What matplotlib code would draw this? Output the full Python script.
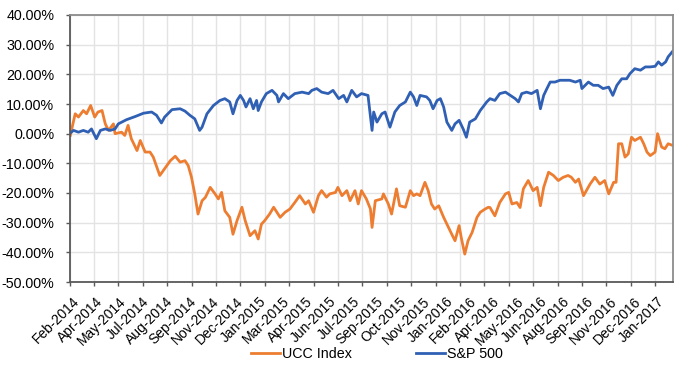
import matplotlib
matplotlib.use("Agg")
import matplotlib.pyplot as plt
import numpy as np

plt.rcParams["font.family"] = ["Liberation Sans", "DejaVu Sans"]

# trading days since start of Feb-2014 and cumulative return (%)
sp_days = [0, 5, 11, 17, 23, 27, 33, 38, 44, 50, 56, 60, 70, 81, 91, 101, 107, 113, 117, 126,
           136, 142, 148, 154, 160, 163, 169, 177, 185, 191, 197, 201, 206, 210, 214, 217, 222,
           226, 230, 232, 236, 242, 249, 255, 257, 263, 269, 277, 286, 294, 298, 304, 310, 318,
           324, 331, 337, 341, 347, 353, 359, 367, 372, 374, 378, 384, 388, 394, 400, 406, 413,
           419, 423, 427, 431, 439, 443, 447, 452, 456, 460, 464, 470, 474, 479, 484, 488, 492,
           499, 505, 513, 517, 523, 529, 536, 542, 548, 552, 556, 562, 568, 575, 579, 583, 587,
           591, 597, 603, 609, 615, 622, 628, 630, 638, 644, 650, 656, 663, 668, 673, 679, 685,
           689, 695, 702, 708, 714, 720, 724, 728, 733, 736, 742]
sp_vals = [0.0, 1.1, 0.5, 1.1, 0.5, 1.6, -1.7, 1.1, 1.6, 1.1, 1.6, 3.3, 4.7, 5.8, 6.9, 7.3, 6.2,
           3.6, 5.6, 8.1, 8.4, 7.6, 6.2, 5.0, 1.1, 2.2, 6.7, 9.5, 11.2, 11.8, 10.7, 6.7, 11.2,
           12.9, 11.2, 9.0, 11.8, 8.4, 11.2, 7.8, 10.7, 13.5, 14.6, 12.9, 10.7, 13.5, 11.8, 13.5,
           14.0, 13.5, 14.6, 15.2, 14.0, 13.5, 14.6, 11.8, 12.9, 10.7, 14.6, 12.4, 13.5, 12.9,
           1.1, 7.3, 3.9, 6.7, 7.3, 2.2, 7.3, 9.5, 10.7, 14.0, 12.4, 9.5, 12.9, 12.4, 11.2, 8.4,
           11.2, 11.8, 9.0, 3.9, 1.1, 3.3, 4.5, 1.6, -1.2, 3.9, 5.0, 7.8, 10.7, 11.8, 11.2, 13.5,
           14.0, 12.9, 11.8, 10.7, 13.5, 14.0, 13.5, 14.6, 8.4, 12.9, 15.2, 17.4, 17.4, 18.0,
           18.0, 18.0, 17.4, 18.0, 15.2, 17.4, 16.3, 16.3, 15.2, 15.7, 12.9, 16.3, 18.5, 18.5,
           20.2, 21.9, 21.4, 22.5, 22.5, 22.7, 24.2, 23.1, 24.2, 25.9, 27.9]

ucc_days = [1, 7, 11, 17, 21, 26, 31, 35, 40, 44, 48, 54, 56, 64, 68, 72, 76, 83, 87, 93, 99,
            103, 111, 117, 124, 130, 136, 142, 146, 150, 154, 158, 163, 167, 173, 179, 183, 187,
            191, 197, 201, 206, 212, 216, 222, 228, 232, 236, 240, 246, 251, 255, 259, 265, 271,
            277, 283, 290, 294, 300, 306, 310, 316, 320, 327, 330, 335, 341, 345, 351, 355, 359,
            365, 370, 372, 376, 384, 386, 392, 396, 402, 406, 413, 419, 423, 427, 431, 437, 441,
            445, 449, 454, 460, 464, 470, 474, 479, 482, 486, 490, 495, 501, 505, 511, 515, 517,
            523, 529, 536, 540, 544, 550, 554, 558, 564, 570, 575, 579, 583, 589, 595, 601, 607,
            613, 617, 622, 626, 632, 640, 646, 652, 658, 663, 669, 672, 675, 679, 683, 687, 691,
            695, 702, 706, 710, 714, 720, 723, 728, 732, 736, 742]
ucc_vals = [-0.6, 6.7, 5.6, 7.8, 6.7, 9.5, 5.6, 7.3, 7.8, 3.3, 1.1, 3.3, 0.0, 0.5, -0.6, 2.8,
            -1.7, -5.7, -2.3, -6.2, -6.2, -7.9, -14.1, -11.8, -9.1, -7.6, -9.6, -9.1, -10.8,
            -14.7, -20.3, -27.1, -22.6, -21.5, -18.1, -20.3, -22.0, -19.8, -26.0, -28.2, -33.9,
            -29.3, -24.8, -29.3, -34.4, -32.7, -35.5, -30.5, -29.3, -27.1, -24.8, -26.5, -28.2,
            -26.5, -25.4, -23.2, -20.9, -23.7, -22.6, -26.5, -20.9, -19.2, -21.4, -20.3, -19.8,
            -18.1, -20.9, -19.2, -22.6, -19.2, -23.7, -19.2, -22.0, -25.4, -31.6, -22.6, -22.0,
            -20.3, -23.7, -27.1, -18.6, -24.3, -24.8, -19.2, -20.9, -20.3, -20.9, -16.4, -19.2,
            -23.7, -25.4, -24.3, -28.2, -30.5, -33.9, -36.1, -31.0, -35.5, -40.6, -36.1, -33.3,
            -28.2, -26.5, -25.4, -24.8, -24.9, -27.7, -23.2, -20.3, -19.8, -23.7, -23.2, -24.9,
            -18.6, -15.8, -19.2, -18.1, -24.3, -18.1, -13.0, -14.1, -15.8, -14.7, -14.1, -14.7,
            -16.4, -15.3, -20.9, -17.0, -14.7, -17.0, -15.8, -20.3, -16.4, -16.4, -3.4, -3.4,
            -7.9, -6.8, -1.2, -2.3, -1.2, -3.4, -6.2, -7.4, -6.2, 0.0, -4.5, -5.1, -3.4, -4.0]

tick_labels = ["Feb-2014", "Apr-2014", "May-2014", "Jul-2014", "Aug-2014", "Sep-2014",
               "Nov-2014", "Dec-2014", "Jan-2015", "Mar-2015", "Apr-2015", "Jun-2015",
               "Jul-2015", "Sep-2015", "Oct-2015", "Nov-2015", "Jan-2016", "Feb-2016",
               "Apr-2016", "May-2016", "Jun-2016", "Aug-2016", "Sep-2016", "Nov-2016",
               "Dec-2016", "Jan-2017"]

ORANGE = "#ED7D31"
BLUE = "#3060B4"

fig = plt.figure(figsize=(6.85, 3.7), dpi=100)
ax = fig.add_axes([69.5 / 685, 1 - 282 / 370, (673 - 69.5) / 685, (282 - 15) / 370])

ax.plot(ucc_days, ucc_vals, color=ORANGE, lw=2.0, label="UCC Index", solid_joinstyle="round")
ax.plot(sp_days, sp_vals, color=BLUE, lw=2.0, label="S&P 500", solid_joinstyle="round")

ax.set_xlim(0, 742)
ax.set_ylim(-50, 40)
ax.set_yticks(np.arange(-50, 41, 10))
ax.set_yticklabels([f"{v:.2f}%" for v in np.arange(-50, 41, 10)])

# gridlines / tick marks every 30 trading days
ax.set_xticks(np.arange(0, 742, 30))
ax.set_xticklabels([])
# labels sit on their own (slightly tighter) spacing
ax.set_xticks(np.linspace(2.7, 722, len(tick_labels)), tick_labels, minor=True)
ax.tick_params(axis="x", which="minor", length=0, pad=9, labelsize=10)
for lab in ax.get_xticklabels(minor=True):
    lab.set_rotation(45)
    lab.set_ha("right")
    lab.set_va("top")
    lab.set_rotation_mode("anchor")

ax.tick_params(axis="x", which="major", length=3, width=1, color="#595959")
ax.tick_params(axis="y", length=3, width=1, color="#595959", pad=8, labelsize=10.3)

ax.grid(True, which="major", color="#e3e3e3", lw=1)
ax.set_axisbelow(True)

for side in ["left", "bottom"]:
    ax.spines[side].set_color("#595959")
    ax.spines[side].set_linewidth(1.3)
for side in ["top", "right"]:
    ax.spines[side].set_color("#8c8c8c")
    ax.spines[side].set_linewidth(1.3)

fig.legend(loc="center", bbox_to_anchor=(377 / 685, 1 - 354 / 370), ncol=2, frameon=False,
           fontsize=10.3, handlelength=2.0, handletextpad=0.15, columnspacing=4.5)

fig.savefig("out.png", dpi=100)
